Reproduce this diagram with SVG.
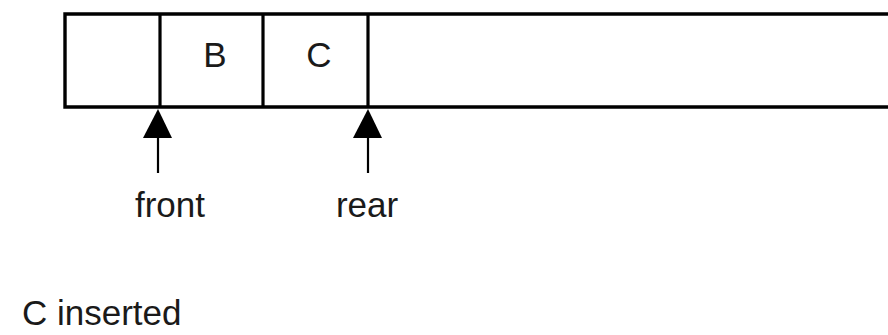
<svg xmlns="http://www.w3.org/2000/svg" width="888" height="335" viewBox="0 0 888 335">
  <style>
    .cell { fill: #fff; stroke: #000; stroke-width: 3.4; }
    .div { stroke: #000; stroke-width: 3.2; }
    .ptr { stroke: #000; stroke-width: 2.2; }
    .head { fill: #000; }
    text { font-family: "Liberation Sans", Arial, sans-serif; font-size: 35px; fill: #1a1a1a; }
  </style>
  <rect width="888" height="335" fill="#fff"/>

  <!-- queue array: open at the right end -->
  <g id="queue">
    <path class="cell" d="M892,14 H65 V107 H892"/>
    <line class="div" x1="160" y1="14" x2="160" y2="107"/>
    <line class="div" x1="263" y1="14" x2="263" y2="107"/>
    <line class="div" x1="368" y1="14" x2="368" y2="107"/>
  </g>
  <g id="cell-B"><text x="215" y="67" text-anchor="middle">B</text></g>
  <g id="cell-C"><text x="319" y="67" text-anchor="middle">C</text></g>

  <!-- front / rear pointers -->
  <g id="connectors">
    <line class="ptr" x1="158" y1="173" x2="158" y2="135"/>
    <polygon class="head" points="158,109 143,138 172,138"/>
    <line class="ptr" x1="368" y1="173" x2="368" y2="135"/>
    <polygon class="head" points="368,109 353,138 382,138"/>
  </g>
  <g id="front"><text x="170" y="217" text-anchor="middle">front</text></g>
  <g id="rear"><text x="367" y="217" text-anchor="middle">rear</text></g>

  <g id="caption"><text x="22" y="325">C inserted</text></g>
</svg>
